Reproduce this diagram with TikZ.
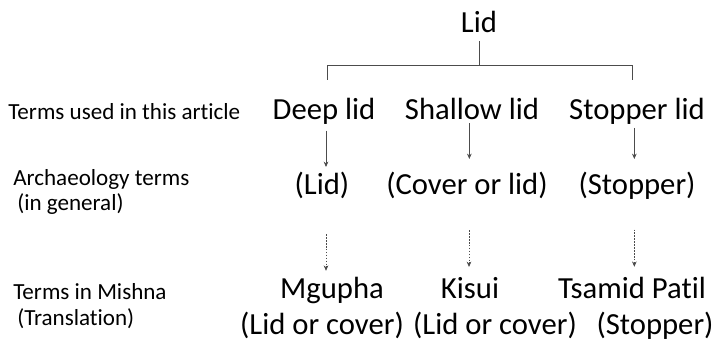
\documentclass[tikz,border=0pt]{standalone}
\usepackage{fontspec}
\setmainfont{Carlito}[Ligatures=NoCommon]
\usetikzlibrary{arrows.meta}

\tikzset{
    term/.style={font=\fontsize{23}{27}\selectfont, inner sep=1pt, anchor=base},
    rowlbl/.style={font=\fontsize{17.3}{20}\selectfont, anchor=base west, inner sep=0pt},
    link/.style={draw=black!70, line width=0.6pt},
    solidarr/.style={link, -{Stealth[length=4pt,width=3.5pt]}},
    dotarr/.style={link, dash pattern=on 1.2pt off 1pt, -{Stealth[length=4pt,width=3.5pt]}}
}

\begin{document}
\begin{tikzpicture}[x=0.75pt, y=-0.75pt]
    \useasboundingbox (0,0) rectangle (718,341);

    % Top term and bracket
    \node[term] (top) at (479,33) {Lid};
    \coordinate (hub) at (479,65);
    \coordinate (bl) at (327,80);
    \coordinate (br) at (632,80);
    \draw[link, shorten <=5pt] (top.south) -- (hub);
    \draw[link] (bl) -- (bl |- hub) -- (br |- hub) -- (br);

    % Row labels
    \node[rowlbl] (lblA) at (8,120) {Terms used in this article};
    \node[rowlbl] (lblB) at (13,186) {Archaeology terms};
    \node[rowlbl] (lblBb) at (17,211) {(in general)};
    \node[rowlbl] (lblC) at (13,300) {Terms in Mishna};
    \node[rowlbl] (lblCb) at (17,326) {(Translation)};

    % Terms used in this article
    \node[term] (deep) at (324,120) {Deep lid};
    \node[term] (shallow) at (472,120) {Shallow lid};
    \node[term] (stopper) at (637,120) {Stopper lid};

    % Archaeology terms
    \node[term] (arcLid) at (322,195) {(Lid)};
    \node[term] (arcCover) at (467,195) {(Cover or lid)};
    \node[term] (arcStop) at (637,195) {(Stopper)};

    % Mishna terms
    \node[term] (mgupha) at (332,299) {Mgupha};
    \node[term] (kisui) at (470,299) {Kisui};
    \node[term] (tsamid) at (632,299) {Tsamid Patil};
    \node[term] (mguphaTr) at (322,335) {(Lid or cover)};
    \node[term] (kisuiTr) at (495,335) {(Lid or cover)};
    \node[term] (tsamidTr) at (655,335) {(Stopper)};

    % Arrows
    \draw[solidarr, shorten <=3pt, shorten >=3pt] ([xshift=1.5pt]deep.south) -- ([xshift=1.5pt]deep.south |- arcLid.north);
    \draw[solidarr, shorten <=1pt, shorten >=9pt] ([xshift=-2pt]shallow.south) -- ([xshift=-2pt]shallow.south |- arcCover.north);
    \draw[solidarr, shorten <=1pt, shorten >=9pt] ([xshift=-2pt]stopper.south) -- ([xshift=-2pt]stopper.south |- arcStop.north);
    \draw[dotarr, shorten <=25pt, shorten >=4pt] ([xshift=3pt]arcLid.south) -- ([xshift=3pt]arcLid.south |- mgupha.north);
    \draw[dotarr, shorten <=22pt, shorten >=7pt] ([xshift=1.5pt]arcCover.south) -- ([xshift=1.5pt]arcCover.south |- kisui.north);
    \draw[dotarr, shorten <=21pt, shorten >=7pt] ([xshift=-2pt]arcStop.south) -- ([xshift=-2pt]arcStop.south |- tsamid.north);
\end{tikzpicture}
\end{document}
